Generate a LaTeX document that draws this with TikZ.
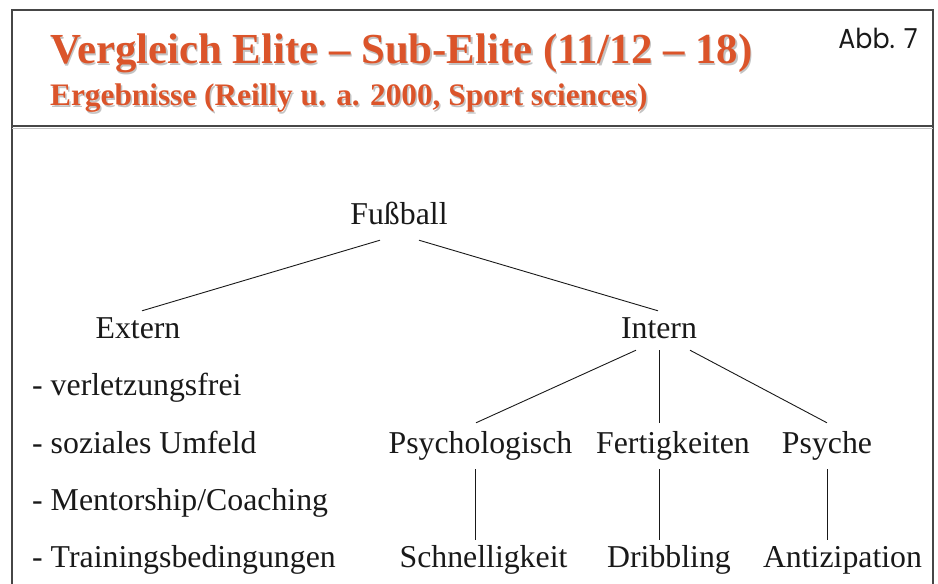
\documentclass[tikz,border=0pt]{standalone}
\usepackage{fontspec}
\setmainfont{Liberation Serif}
\newfontfamily\abbfont{Poppins}
\definecolor{titleorange}{RGB}{219,84,42}
\definecolor{shadowgray}{RGB}{195,195,195}
\definecolor{framegray}{RGB}{70,70,70}
\definecolor{textblack}{RGB}{25,25,25}
\tikzset{
  lbl/.style={anchor=base, inner xsep=0pt, inner ysep=5pt, text height=22pt, text depth=7pt,
              font=\fontsize{31.8}{36}\selectfont, text=textblack},
  item/.style={anchor=base west, inner sep=0pt, font=\fontsize{31.8}{36}\selectfont, text=textblack},
  conn/.style={draw=textblack, line width=0.9pt},
  framel/.style={draw=framegray, line width=1.3pt},
  ttl/.style={anchor=base west, inner sep=0pt, font=\bfseries\fontsize{42.8}{48}\selectfont},
  subttl/.style={anchor=base west, inner sep=0pt, font=\bfseries\fontsize{31.3}{36}\selectfont}
}
\begin{document}
\begin{tikzpicture}[x=1pt,y=-1pt]
\useasboundingbox (0,0) rectangle (938,584);
% frame
\draw[framel] (12,590) -- (12,10) -- (933,10) -- (933,590);
\draw[draw=shadowgray, line width=1.5pt] (12,128.5) -- (933,128.5);
\draw[draw=framegray, line width=1.6pt] (12,126) -- (933,126);
% titles
\node[ttl, text=shadowgray] at (51.5,65.5) {Vergleich Elite – Sub-Elite (11/12 – 18)};
\node[ttl, text=titleorange] (title) at (50,63.5) {Vergleich Elite – Sub-Elite (11/12 – 18)};
\node[subttl, text=shadowgray] at (51.5,107) {Ergebnisse (Reilly u. a. 2000, Sport sciences)};
\node[subttl, text=titleorange] (subtitle) at (50,105) {Ergebnisse (Reilly u. a. 2000, Sport sciences)};
\node[anchor=base east, inner sep=0pt, font=\abbfont\fontsize{27.5}{32}\selectfont, text=textblack] (abb) at (918,48) {\scalebox{0.92}[1]{Abb. 7}};
% tree
\node[lbl] (fb) at (399,224) {Fußball};
\node[lbl] (ext) at (138,338) {Extern};
\node[lbl] (int) at (659,338) {Intern};
\node[lbl] (psl) at (480.5,453) {Psychologisch};
\node[lbl] (fer) at (673,453) {Fertigkeiten};
\node[lbl] (psy) at (827,453) {Psyche};
\node[lbl] (sch) at (483.5,567) {Schnelligkeit};
\node[lbl] (dri) at (669,567) {Dribbling};
\node[lbl] (ant) at (842.5,567) {Antizipation};
% list
\node[item] (l1) at (32,395) {- verletzungsfrei};
\node[item] (l2) at (32,453) {- soziales Umfeld};
\node[item] (l3) at (32,510) {- Mentorship/Coaching};
\node[item] (l4) at (32,567) {- Trainingsbedingungen};
% connectors
\draw[conn] ([xshift=-19pt,yshift=-4pt]fb.south) -- ([xshift=4pt]ext.north);
\draw[conn] ([xshift=20pt,yshift=-4pt]fb.south) -- ([xshift=-1pt]int.north);
\draw[conn] ([xshift=-23pt]int.south) -- ([xshift=-4.5pt,yshift=3pt]psl.north);
\draw[conn] (int.south) -- ([xshift=-14pt,yshift=3pt]fer.north);
\draw[conn] ([xshift=31pt]int.south) -- ([yshift=3pt]psy.north);
\draw[conn] ([xshift=-5.5pt,yshift=-4pt]psl.south) -- ([xshift=-8.5pt]sch.north);
\draw[conn] ([xshift=-14pt,yshift=-4pt]fer.south) -- ([xshift=-10pt]dri.north);
\draw[conn] ([yshift=-4pt]psy.south) -- ([xshift=-15.5pt]ant.north);
\end{tikzpicture}
\end{document}
